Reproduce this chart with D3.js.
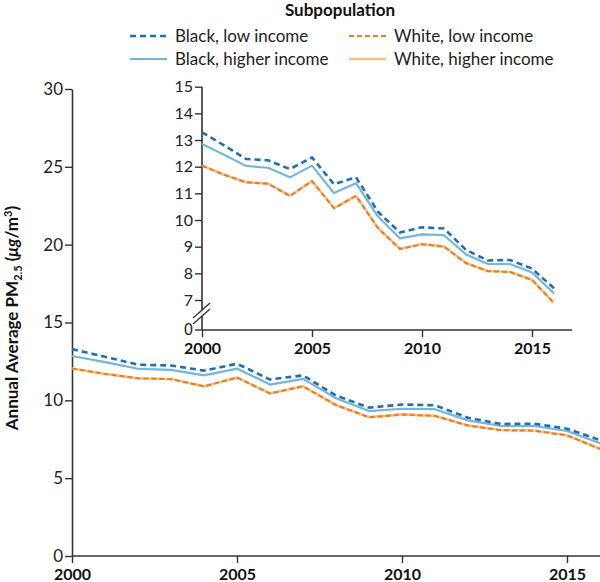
<!DOCTYPE html>
<html><head><meta charset="utf-8">
<script src="https://cdn.jsdelivr.net/npm/d3@7"></script>
<style>
body{margin:0;background:#fff;}
svg{display:block;font-family:Lato,"Open Sans",sans-serif;}
</style></head>
<body><svg id="c" width="600" height="582"></svg>
<script>
const years = [2000,2001,2002,2003,2004,2005,2006,2007,2008,2009,2010,2011,2012,2013,2014,2015,2016];
const blackLow    = [13.29,12.80,12.29,12.24,11.91,12.35,11.34,11.60,10.31,9.53,9.73,9.68,8.88,8.48,8.50,8.18,7.44];
const blackHigher = [12.85,12.45,12.03,11.96,11.60,12.04,11.01,11.38,10.13,9.31,9.46,9.43,8.71,8.35,8.35,8.03,7.25];
const whiteLow    = [12.04,11.70,11.41,11.36,10.90,11.46,10.44,10.90,9.69,8.91,9.09,9.00,8.38,8.08,8.05,7.75,6.88];
const whiteHigher = [12.04,11.70,11.42,11.37,10.91,11.47,10.45,10.91,9.70,8.92,9.10,9.01,8.39,8.09,8.06,7.76,6.89];
const seriesNames = ["Black, low income","White, low income","Black, higher income","White, higher income"];
const mainYTicks = [0,5,10,15,20,25,30];
const insetYTicks = [7,8,9,10,11,12,13,14,15];
const xTicks = [2000,2005,2010,2015];

const C = {blackLow:"#1f6fb3", blackHigher:"#74b4de", whiteLow:"#e67e22", whiteHigher:"#f5c08a"};
const svg = d3.select("#c");
const axisColor = "#333";

const series = [
  {name:seriesNames[3], vals:whiteHigher, color:C.whiteHigher, dash:null, w:2.6},
  {name:seriesNames[1], vals:whiteLow, color:C.whiteLow, dash:"5,3", w:2},
  {name:seriesNames[2], vals:blackHigher, color:C.blackHigher, dash:null, w:2.2},
  {name:seriesNames[0], vals:blackLow, color:C.blackLow, dash:"6,4", w:2.6}
];

function styleAxis(g){
  g.selectAll("path.domain").attr("stroke",axisColor).attr("stroke-width",1.6);
  g.selectAll(".tick line").attr("stroke",axisColor).attr("stroke-width",1.4);
  g.selectAll(".tick text").attr("fill","#222").attr("font-family","Lato, 'Open Sans', sans-serif");
}

// ---------- Main chart ----------
const x = d3.scaleLinear().domain([2000,2016]).range([72,600]);
const y = d3.scaleLinear().domain([0,30]).range([556,89]);

const gy = svg.append("g").attr("transform","translate(72,0)")
  .call(d3.axisLeft(y).tickValues(mainYTicks).tickSize(7).tickSizeOuter(0).tickPadding(2));
styleAxis(gy);
gy.selectAll(".tick text").attr("font-size",17);

const gx = svg.append("g").attr("transform","translate(0,556)")
  .call(d3.axisBottom(x).tickValues(xTicks).tickFormat(d3.format("d")).tickSize(7).tickSizeOuter(0));
styleAxis(gx);
gx.selectAll(".tick text").attr("font-size",16).attr("font-weight","bold").attr("fill","#111")
  .attr("y",24).attr("dy",0);
gx.select("path.domain").attr("d","M72,0H600");

const lineMain = d3.line().x((d,i)=>x(years[i])).y(d=>y(d));
series.forEach(s=>{
  svg.append("path").attr("d",lineMain(s.vals)).attr("fill","none")
    .attr("stroke",s.color).attr("stroke-width",s.w)
    .attr("stroke-dasharray",s.dash).attr("stroke-linejoin","round");
});

// Y title
const yt = svg.append("text").attr("transform","translate(18,318) rotate(-90)")
  .attr("text-anchor","middle").attr("font-size",17).attr("font-weight","bold").attr("fill","#111");
yt.append("tspan").text("Annual Average PM");
yt.append("tspan").text("2.5").attr("font-size",11).attr("dy",4);
yt.append("tspan").text(" (").attr("dy",-4);
yt.append("tspan").text("μg").attr("font-style","italic");
yt.append("tspan").text("/m");
yt.append("tspan").text("3").attr("font-size",11).attr("dy",-6);
yt.append("tspan").text(")").attr("dy",6);

// ---------- Inset ----------
const xi = d3.scaleLinear().domain([2000,2016]).range([202,554]);
const yi = d3.scaleLinear().domain([7,15]).range([300,86.7]);
const inset = svg.append("g");
inset.append("rect").attr("x",150).attr("y",78).attr("width",430).attr("height",282).attr("fill","#fff");

const giy = inset.append("g").attr("transform","translate(202,0)")
  .call(d3.axisLeft(yi).tickValues(insetYTicks).tickSize(7).tickSizeOuter(0).tickPadding(2));
styleAxis(giy);
giy.selectAll(".tick text").attr("font-size",16);
giy.select("path.domain").attr("d","M0,86.7V330");
// zero tick
const zt = giy.append("g").attr("transform","translate(0,330)");
zt.append("line").attr("x1",-7).attr("x2",0).attr("stroke",axisColor).attr("stroke-width",1.4);
zt.append("text").attr("x",-9).attr("dy","0.3em").attr("text-anchor","end")
  .attr("font-size",16).attr("fill","#222").text("0");
// break marks
inset.append("polygon").attr("points","194,318 209,304 209,309 194,323").attr("fill","#fff");
inset.append("line").attr("x1",193).attr("y1",318).attr("x2",210).attr("y2",303).attr("stroke",axisColor).attr("stroke-width",1.3);
inset.append("line").attr("x1",193).attr("y1",324).attr("x2",210).attr("y2",309).attr("stroke",axisColor).attr("stroke-width",1.3);

const gix = inset.append("g").attr("transform","translate(0,330)")
  .call(d3.axisBottom(xi).tickValues(xTicks).tickFormat(d3.format("d")).tickSize(7).tickSizeOuter(0));
styleAxis(gix);
gix.selectAll(".tick text").attr("font-size",16).attr("font-weight","bold").attr("fill","#111")
  .attr("y",24).attr("dy",0);
gix.select("path.domain").attr("d","M202,0H572");

const lineInset = d3.line().x((d,i)=>xi(years[i])).y(d=>yi(d));
series.forEach(s=>{
  inset.append("path").attr("d",lineInset(s.vals)).attr("fill","none")
    .attr("stroke",s.color).attr("stroke-width",s.w)
    .attr("stroke-dasharray",s.dash).attr("stroke-linejoin","round");
});

// ---------- Legend ----------
const lg = svg.append("g");
lg.append("text").attr("x",340).attr("y",16).attr("text-anchor","middle")
  .attr("font-size",17).attr("font-weight","bold").attr("fill","#111").text("Subpopulation");
// order: Black low, White low, Black higher, White higher
const legOrder = [series[3], series[1], series[2], series[0]];
const legPos = [[130,36],[349,36],[130,59],[349,59]];
legOrder.forEach((s,i)=>{
  const [lx,ly] = legPos[i];
  lg.append("line").attr("x1",lx).attr("x2",lx+37).attr("y1",ly).attr("y2",ly)
    .attr("stroke",s.color).attr("stroke-width",s.w).attr("stroke-dasharray",s.dash);
  lg.append("text").attr("x",lx+45).attr("y",ly).attr("dy","0.35em")
    .attr("font-size",17).attr("fill","#222").text(s.name);
});
</script></body></html>
